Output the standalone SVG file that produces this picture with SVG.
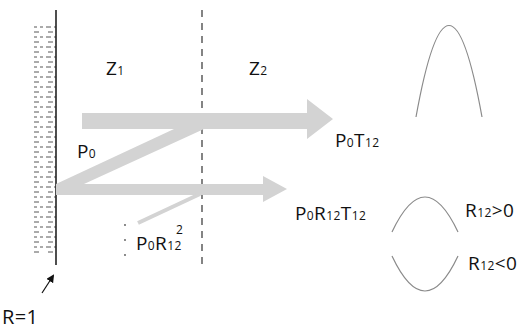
<svg xmlns="http://www.w3.org/2000/svg" width="524" height="331" viewBox="0 0 524 331">
<defs>
<style>
.t{font-family:"Open Sans","Liberation Sans",sans-serif;font-size:19px;fill:#111;letter-spacing:0.4px}
.s{font-size:12px}
.band{fill:#d3d3d3}
.curve{fill:none;stroke:#8a8a8a;stroke-width:1.2}
</style>
<pattern id="hatch" x="0" y="26" width="22" height="10" patternUnits="userSpaceOnUse">
<g stroke="#555" stroke-width="1">
<line x1="2" y1="1" x2="7" y2="1"/><line x1="10" y1="1" x2="15" y2="1"/><line x1="18" y1="1" x2="21" y2="1"/>
<line x1="4" y1="6" x2="9" y2="6"/><line x1="12" y1="6" x2="17" y2="6"/>
</g>
</pattern>
<marker id="ah" markerWidth="8" markerHeight="8" refX="6" refY="4" orient="auto" markerUnits="userSpaceOnUse">
<path d="M0,0 L8,4 L0,8 Z" fill="#111"/>
</marker>
</defs>
<rect width="524" height="331" fill="#fff"/>

<g id="wall">
<rect x="34" y="26" width="22" height="230" fill="url(#hatch)"/>
<line x1="56" y1="10" x2="56" y2="265" stroke="#222" stroke-width="1.6"/>
</g>
<g id="interface">
<line x1="202" y1="10" x2="202" y2="268" stroke="#333" stroke-width="1.2" stroke-dasharray="7,6"/>
</g>

<g id="connectors">
<polygon class="band" points="82,113 307,113 307,99 333,119 307,139 307,129 82,129"/>
<polygon class="band" points="56,184 174,129 204,129 84,184"/>
<polygon class="band" points="56,184 263,184 263,176 287,189 263,202 263,195 56,195"/>
<line x1="138" y1="223" x2="200" y2="194" stroke="#d3d3d3" stroke-width="4"/>
<line x1="42" y1="293" x2="53" y2="276" stroke="#111" stroke-width="1.2" marker-end="url(#ah)"/>
<g fill="#555"><circle cx="125" cy="225" r="0.9"/><circle cx="125" cy="240" r="0.9"/><circle cx="125" cy="255" r="0.9"/></g>
</g>

<g id="curves">
<path class="curve" d="M416,117 Q449,-66 482,117"/>
<path class="curve" d="M392,232 Q425,162 458,232"/>
<path class="curve" d="M392,256 Q425,326 458,256"/>
</g>

<g id="labels">
<text class="t" x="106" y="75">Z<tspan class="s">1</tspan></text>
<text class="t" x="249" y="75">Z<tspan class="s">2</tspan></text>
<text class="t" x="77" y="158">P<tspan class="s">0</tspan></text>
<text class="t" x="335" y="147">P<tspan class="s">0</tspan>T<tspan class="s">12</tspan></text>
<text class="t" x="295" y="220">P<tspan class="s">0</tspan>R<tspan class="s">12</tspan>T<tspan class="s">12</tspan></text>
<text class="t" x="136" y="250">P<tspan class="s">0</tspan>R<tspan class="s">12</tspan></text>
<text class="t s" x="176" y="234">2</text>
<text class="t" x="465" y="217">R<tspan class="s">12</tspan>&gt;0</text>
<text class="t" x="468" y="270">R<tspan class="s">12</tspan>&lt;0</text>
<text class="t" x="2" y="324" style="font-size:20px">R=1</text>
</g>
</svg>
